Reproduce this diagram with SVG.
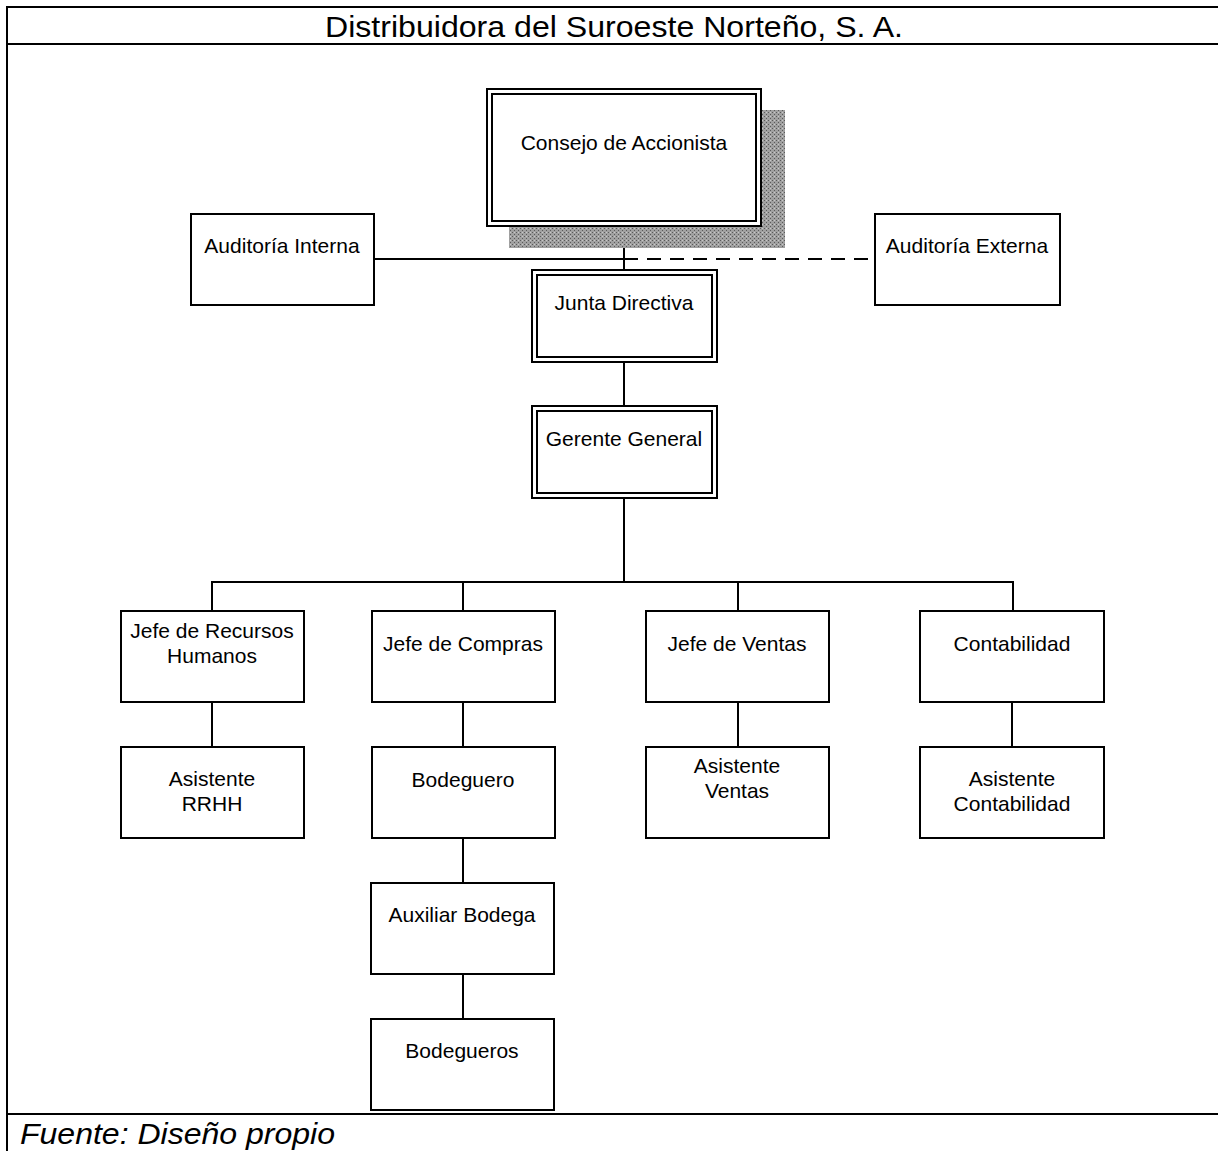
<svg xmlns="http://www.w3.org/2000/svg" width="1218" height="1151" viewBox="0 0 1218 1151">
<defs>
<style>
.box{fill:#fff;stroke:#000;stroke-width:2}
.inner{fill:none;stroke:#000;stroke-width:2}
.ln{stroke:#000;stroke-width:2;fill:none}
.dash{stroke:#000;stroke-width:2;fill:none;stroke-dasharray:14 9}
.t{font-family:"Liberation Sans",Arial,sans-serif;font-size:21px;fill:#000;text-anchor:middle}
</style>
<pattern id="dither" width="4" height="4" patternUnits="userSpaceOnUse">
<rect width="4" height="4" fill="#a0a0a0"/>
<rect x="0" y="0" width="1" height="1" fill="#5a5a5a"/>
<rect x="2" y="2" width="1" height="1" fill="#5a5a5a"/>
<rect x="2" y="0" width="1" height="1" fill="#c8c8c8"/>
</pattern>
</defs>
<rect width="1218" height="1151" fill="#fff"/>
<g id="frame">
<path class="ln" d="M7,1151 V7 H1218 M7,44 H1218 M7,1114 H1218"/>
<text x="614" y="37" style="font-family:'Liberation Sans',Arial,sans-serif;font-size:30px" text-anchor="middle" textLength="578" lengthAdjust="spacingAndGlyphs">Distribuidora del Suroeste Norteño, S. A.</text>
<text x="20" y="1144" style="font-family:'Liberation Sans',Arial,sans-serif;font-size:30px;font-style:italic" textLength="315" lengthAdjust="spacingAndGlyphs">Fuente: Diseño propio</text>
</g>
<g id="connectors">
<path class="ln" d="M624,226 V270"/>
<path class="ln" d="M374,259 H624"/>
<path class="dash" d="M624,259 H875"/>
<path class="ln" d="M624,362 V406"/>
<path class="ln" d="M624,498 V582"/>
<path class="ln" d="M212,611 V582 H1013 V611"/>
<path class="ln" d="M463,582 V611"/>
<path class="ln" d="M738,582 V611"/>
<path class="ln" d="M212,702 V747"/>
<path class="ln" d="M463,702 V747"/>
<path class="ln" d="M463,838 V883"/>
<path class="ln" d="M463,974 V1019"/>
<path class="ln" d="M738,702 V747"/>
<path class="ln" d="M1012,702 V747"/>
</g>
<g id="consejo">
<rect x="509" y="110" width="276" height="138" fill="url(#dither)"/>
<rect class="box" x="487" y="89" width="274" height="137"/>
<rect class="inner" x="492" y="94" width="264" height="127" stroke-width="3"/>
<text class="t" x="624" y="150">Consejo de Accionista</text>
</g>
<g id="auditoria-interna">
<rect class="box" x="191" y="214" width="183" height="91"/>
<text class="t" x="282" y="253">Auditoría Interna</text>
</g>
<g id="auditoria-externa">
<rect class="box" x="875" y="214" width="185" height="91"/>
<text class="t" x="967" y="253">Auditoría Externa</text>
</g>
<g id="junta">
<rect class="box" x="532" y="270" width="185" height="92"/>
<rect class="inner" x="537" y="275" width="175" height="82"/>
<text class="t" x="624" y="310">Junta Directiva</text>
</g>
<g id="gerente">
<rect class="box" x="532" y="406" width="185" height="92"/>
<rect class="inner" x="537" y="411" width="175" height="82"/>
<text class="t" x="624" y="446">Gerente General</text>
</g>
<g id="jefe-rrhh">
<rect class="box" x="121" y="611" width="183" height="91"/>
<text class="t" x="212" y="638">Jefe de Recursos</text>
<text class="t" x="212" y="663">Humanos</text>
</g>
<g id="jefe-compras">
<rect class="box" x="372" y="611" width="183" height="91"/>
<text class="t" x="463" y="651">Jefe de Compras</text>
</g>
<g id="jefe-ventas">
<rect class="box" x="646" y="611" width="183" height="91"/>
<text class="t" x="737" y="651">Jefe de Ventas</text>
</g>
<g id="contabilidad">
<rect class="box" x="920" y="611" width="184" height="91"/>
<text class="t" x="1012" y="651">Contabilidad</text>
</g>
<g id="asistente-rrhh">
<rect class="box" x="121" y="747" width="183" height="91"/>
<text class="t" x="212" y="786">Asistente</text>
<text class="t" x="212" y="811">RRHH</text>
</g>
<g id="bodeguero">
<rect class="box" x="372" y="747" width="183" height="91"/>
<text class="t" x="463" y="787">Bodeguero</text>
</g>
<g id="asistente-ventas">
<rect class="box" x="646" y="747" width="183" height="91"/>
<text class="t" x="737" y="773">Asistente</text>
<text class="t" x="737" y="798">Ventas</text>
</g>
<g id="asistente-contabilidad">
<rect class="box" x="920" y="747" width="184" height="91"/>
<text class="t" x="1012" y="786">Asistente</text>
<text class="t" x="1012" y="811">Contabilidad</text>
</g>
<g id="auxiliar-bodega">
<rect class="box" x="371" y="883" width="183" height="91"/>
<text class="t" x="462" y="922">Auxiliar Bodega</text>
</g>
<g id="bodegueros">
<rect class="box" x="371" y="1019" width="183" height="91"/>
<text class="t" x="462" y="1058">Bodegueros</text>
</g>
</svg>
